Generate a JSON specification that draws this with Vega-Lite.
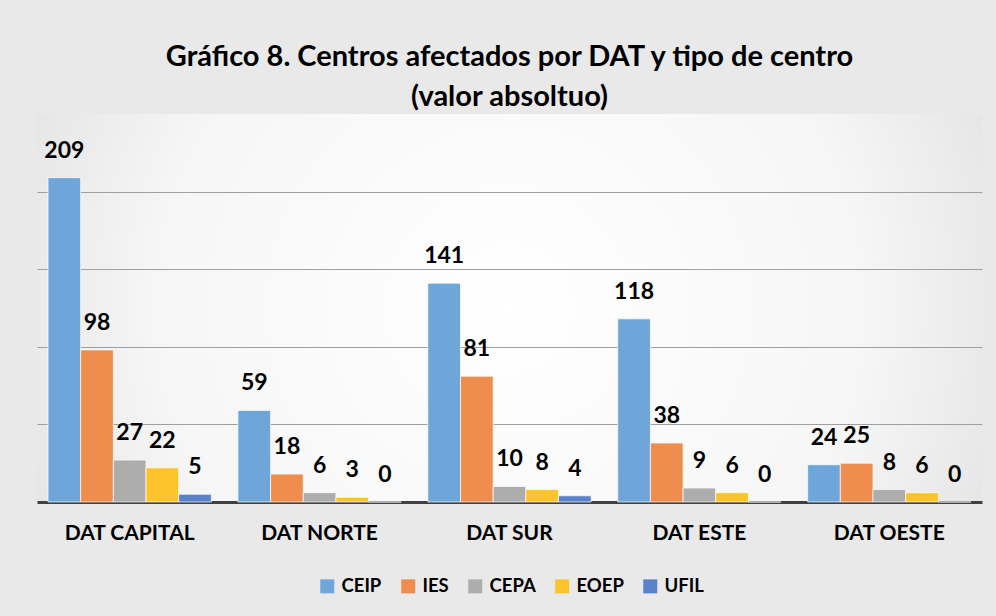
{
  "$schema": "https://vega.github.io/schema/vega-lite/v6.json",
  "width": 945,
  "height": 388,
  "autosize": {"type": "none"},
  "padding": {"left": 37, "top": 114, "right": 14, "bottom": 114},
  "background": "#e9e9e9",
  "title": {
    "text": ["Gráfico 8. Centros afectados por DAT y tipo de centro", "(valor absoltuo)"],
    "font": "Lato",
    "fontSize": 29,
    "fontWeight": "bold",
    "color": "#000000",
    "anchor": "middle",
    "frame": "group",
    "lineHeight": 40,
    "offset": 2
  },
  "data": {
    "values": [
      {"dat": "DAT CAPITAL", "tipo": "CEIP", "valor": 209},
      {"dat": "DAT CAPITAL", "tipo": "IES", "valor": 98},
      {"dat": "DAT CAPITAL", "tipo": "CEPA", "valor": 27},
      {"dat": "DAT CAPITAL", "tipo": "EOEP", "valor": 22},
      {"dat": "DAT CAPITAL", "tipo": "UFIL", "valor": 5},
      {"dat": "DAT NORTE", "tipo": "CEIP", "valor": 59},
      {"dat": "DAT NORTE", "tipo": "IES", "valor": 18},
      {"dat": "DAT NORTE", "tipo": "CEPA", "valor": 6},
      {"dat": "DAT NORTE", "tipo": "EOEP", "valor": 3},
      {"dat": "DAT NORTE", "tipo": "UFIL", "valor": 0},
      {"dat": "DAT SUR", "tipo": "CEIP", "valor": 141},
      {"dat": "DAT SUR", "tipo": "IES", "valor": 81},
      {"dat": "DAT SUR", "tipo": "CEPA", "valor": 10},
      {"dat": "DAT SUR", "tipo": "EOEP", "valor": 8},
      {"dat": "DAT SUR", "tipo": "UFIL", "valor": 4},
      {"dat": "DAT ESTE", "tipo": "CEIP", "valor": 118},
      {"dat": "DAT ESTE", "tipo": "IES", "valor": 38},
      {"dat": "DAT ESTE", "tipo": "CEPA", "valor": 9},
      {"dat": "DAT ESTE", "tipo": "EOEP", "valor": 6},
      {"dat": "DAT ESTE", "tipo": "UFIL", "valor": 0},
      {"dat": "DAT OESTE", "tipo": "CEIP", "valor": 24},
      {"dat": "DAT OESTE", "tipo": "IES", "valor": 25},
      {"dat": "DAT OESTE", "tipo": "CEPA", "valor": 8},
      {"dat": "DAT OESTE", "tipo": "EOEP", "valor": 6},
      {"dat": "DAT OESTE", "tipo": "UFIL", "valor": 0}
    ]
  },
  "encoding": {
    "x": {
      "field": "dat",
      "type": "nominal",
      "sort": ["DAT CAPITAL", "DAT NORTE", "DAT SUR", "DAT ESTE", "DAT OESTE"],
      "scale": {"paddingInner": 0.14, "paddingOuter": 0.058},
      "axis": {
        "title": null,
        "labelAngle": 0,
        "labelFont": "Lato",
        "labelFontSize": 21,
        "labelFontWeight": "bold",
        "labelColor": "#000000",
        "labelPadding": 20,
        "ticks": false,
        "domainColor": "#404040",
        "domainWidth": 3,
        "grid": false
      }
    },
    "xOffset": {
      "field": "tipo",
      "type": "nominal",
      "sort": ["CEIP", "IES", "CEPA", "EOEP", "UFIL"],
      "scale": {"paddingInner": 0, "paddingOuter": 0}
    },
    "y": {
      "field": "valor",
      "type": "quantitative",
      "scale": {"domain": [0, 250], "nice": false},
      "axis": {
        "title": null,
        "labels": false,
        "ticks": false,
        "domain": false,
        "values": [50, 100, 150, 200],
        "gridColor": "#9f9f9f",
        "gridWidth": 1.2
      }
    }
  },
  "layer": [
    {
      "mark": {"type": "bar", "stroke": "#ffffff", "strokeWidth": 1, "strokeOpacity": 0.7},
      "encoding": {
        "color": {
          "field": "tipo",
          "type": "nominal",
          "sort": ["CEIP", "IES", "CEPA", "EOEP", "UFIL"],
          "scale": {
            "domain": ["CEIP", "IES", "CEPA", "EOEP", "UFIL"],
            "range": ["#6fa6da", "#ee8d4d", "#adadad", "#fcc42a", "#5a82cb"]
          },
          "legend": {
            "title": null,
            "orient": "none",
            "direction": "horizontal",
            "legendX": 281,
            "legendY": 463,
            "symbolType": "square",
            "symbolSize": 196,
            "symbolStrokeWidth": 0,
            "labelFont": "Lato",
            "labelFontSize": 18.5,
            "labelFontWeight": "bold",
            "labelColor": "#000000",
            "labelOffset": 5,
            "columnPadding": 17
          }
        }
      }
    },
    {
      "mark": {
        "type": "text",
        "baseline": "middle",
        "align": "center",
        "dy": -27,
        "font": "Lato",
        "fontSize": 23,
        "fontWeight": "bold",
        "color": "#000000"
      },
      "encoding": {
        "text": {"field": "valor", "type": "quantitative"}
      }
    }
  ],
  "config": {
    "view": {
      "stroke": null,
      "fill": {
        "gradient": "radial",
        "x1": 0.5, "y1": 0.5, "r1": 0,
        "x2": 0.5, "y2": 0.5, "r2": 0.75,
        "stops": [
          {"offset": 0, "color": "#ffffff"},
          {"offset": 0.5, "color": "#f6f6f6"},
          {"offset": 1, "color": "#d2d2d2"}
        ]
      }
    }
  }
}
